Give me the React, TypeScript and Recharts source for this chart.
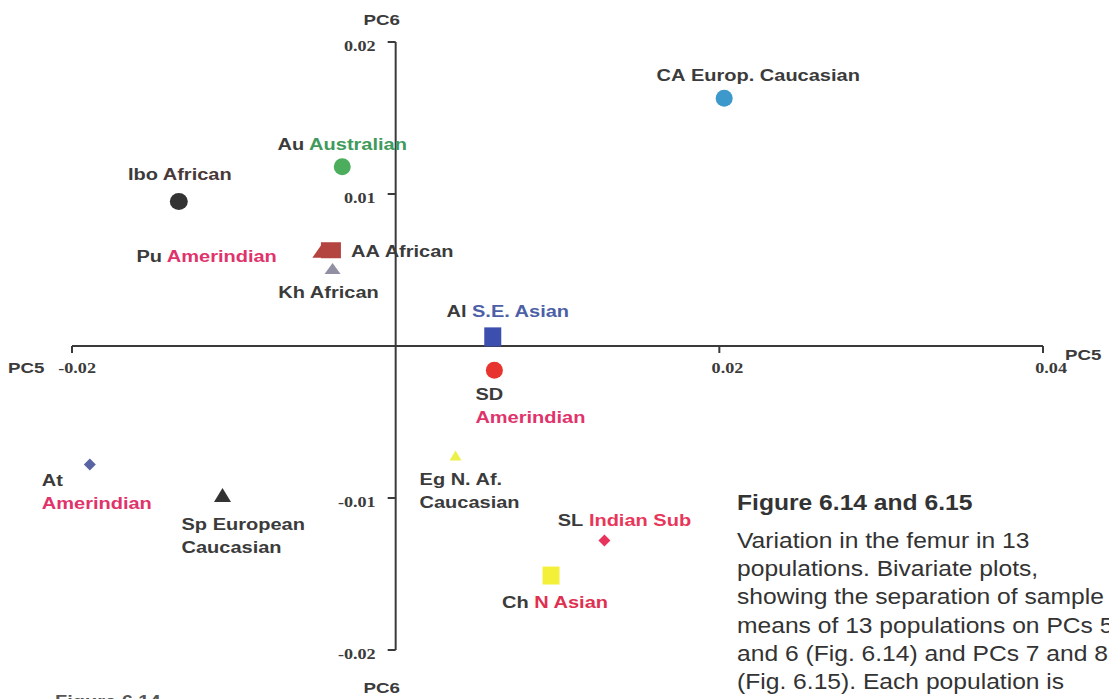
import { ScatterChart, Scatter, XAxis, YAxis, ReferenceLine, ReferenceDot } from 'recharts'

// population codes, group names and sample means on PC5 / PC6
const codes = ['CA', 'Au', 'Ibo', 'Pu', 'AA', 'Kh', 'Al', 'SD', 'Eg', 'At', 'Sp', 'SL', 'Ch']
const groups = [
  'Europ. Caucasian',
  'Australian',
  'African',
  'Amerindian',
  'African',
  'African',
  'S.E. Asian',
  'Amerindian',
  'N. Af. Caucasian',
  'Amerindian',
  'European Caucasian',
  'Indian Sub',
  'N Asian',
]
const pc5 = [0.0203, -0.0033, -0.0134, -0.0045, -0.004, -0.0039, 0.006, 0.0061, 0.0037, -0.0189, -0.0107, 0.0129, 0.0096]
const pc6 = [0.0163, 0.0118, 0.0095, 0.0063, 0.0063, 0.0051, 0.0006, -0.0016, -0.0072, -0.0078, -0.0098, -0.0128, -0.0151]

const xTicks = [-0.02, 0.02, 0.04]
const xTickLabels = ['-0.02', '0.02', '0.04']
const yTicks = [0.02, 0.01, -0.01, -0.02]
const yTickLabels = ['0.02', '0.01', '-0.01', '-0.02']

const captionTitle = 'Figure 6.14 and 6.15'
const captionLines = [
  'Variation in the femur in 13',
  'populations. Bivariate plots,',
  'showing the separation of sample',
  'means of 13 populations on PCs 5',
  'and 6 (Fig. 6.14) and PCs 7 and 8',
  '(Fig. 6.15). Each population is',
]

const points = codes.map((code, i) => ({ code, group: groups[i], pc5: pc5[i], pc6: pc6[i] }))

const INK = '#3b3b3b'
const SANS = '"Liberation Sans", Arial, sans-serif'
const SERIF = '"Liberation Serif", "Times New Roman", "DejaVu Serif", serif'
const SX = 1.25 // the scanned figure is stretched sideways

type Kind = 'circle' | 'square' | 'triangle' | 'diamond'
const markers: Record<string, { kind: Kind; fill: string; w: number; h: number }> = {
  CA: { kind: 'circle', fill: '#3d98cc', w: 17, h: 17 },
  Au: { kind: 'circle', fill: '#4cae5c', w: 17, h: 17 },
  Ibo: { kind: 'circle', fill: '#333333', w: 18, h: 17 },
  Pu: { kind: 'triangle', fill: '#b3443f', w: 21, h: 15 },
  AA: { kind: 'square', fill: '#b3443f', w: 20, h: 16 },
  Kh: { kind: 'triangle', fill: '#918fa3', w: 16, h: 11 },
  Al: { kind: 'square', fill: '#3c4fae', w: 17, h: 19 },
  SD: { kind: 'circle', fill: '#e8342f', w: 17, h: 17 },
  Eg: { kind: 'triangle', fill: '#eef04a', w: 12, h: 10 },
  At: { kind: 'diamond', fill: '#5a64a3', w: 12, h: 12 },
  Sp: { kind: 'triangle', fill: '#333333', w: 17, h: 14 },
  SL: { kind: 'diamond', fill: '#e8345c', w: 12, h: 12 },
  Ch: { kind: 'square', fill: '#f4f03a', w: 17, h: 18 },
}

// where each name sits relative to its marker; split = group words kept on the first line
const labels: Record<string, { anchor: 'start' | 'middle' | 'end'; dx: number; dy: number; color: string; split?: number }> = {
  CA: { anchor: 'middle', dx: 34, dy: -17, color: INK },
  Au: { anchor: 'middle', dx: 0, dy: -17, color: '#3f9a5c' },
  Ibo: { anchor: 'middle', dx: 1, dy: -22, color: '#4a3838' },
  Pu: { anchor: 'end', dx: -46, dy: 12, color: '#e0336b' },
  AA: { anchor: 'start', dx: 20, dy: 7, color: INK },
  Kh: { anchor: 'middle', dx: -4, dy: 30, color: INK },
  Al: { anchor: 'middle', dx: 15, dy: -20, color: '#4d5fa6' },
  SD: { anchor: 'start', dx: -19, dy: 30, color: '#e0336b', split: 0 },
  Eg: { anchor: 'start', dx: -36, dy: 30, color: INK, split: 2 },
  At: { anchor: 'start', dx: -48, dy: 21, color: '#e0336b', split: 0 },
  Sp: { anchor: 'start', dx: -41, dy: 35, color: INK, split: 1 },
  SL: { anchor: 'middle', dx: 20, dy: -15, color: '#e8365a' },
  Ch: { anchor: 'middle', dx: 4, dy: 32, color: '#e03050' },
}

function Stretch({
  x,
  y,
  anchor = 'start',
  size = 16,
  weight = 'bold',
  family = SANS,
  fill = INK,
  sx = SX,
  children,
}: any) {
  return (
    <text
      transform={`translate(${x},${y}) scale(${sx},1)`}
      textAnchor={anchor}
      fontSize={size}
      fontWeight={weight}
      style={{ fontFamily: family }}
      fill={fill}
    >
      {children}
    </text>
  )
}

function Marker({ cx, cy, kind, fill, w, h }: any) {
  if (kind === 'circle') return <ellipse cx={cx} cy={cy} rx={w / 2} ry={h / 2} fill={fill} />
  if (kind === 'square') return <rect x={cx - w / 2} y={cy - h / 2} width={w} height={h} fill={fill} />
  if (kind === 'triangle')
    return (
      <polygon
        points={`${cx},${cy - h / 2} ${cx + w / 2},${cy + h / 2} ${cx - w / 2},${cy + h / 2}`}
        fill={fill}
      />
    )
  return (
    <polygon
      points={`${cx},${cy - h / 2} ${cx + w / 2},${cy} ${cx},${cy + h / 2} ${cx - w / 2},${cy}`}
      fill={fill}
    />
  )
}

function PopulationPoint(props: any) {
  const { cx, cy, payload } = props
  const m = markers[payload.code]
  const l = labels[payload.code]
  const words = payload.group.split(' ')
  const first = l.split === undefined ? words : words.slice(0, l.split)
  const rest = l.split === undefined ? [] : words.slice(l.split)
  return (
    <g>
      <Marker cx={cx} cy={cy} {...m} />
      <Stretch x={cx + l.dx} y={cy + l.dy} anchor={l.anchor}>
        <tspan fill={INK}>{payload.code}</tspan>
        {first.length > 0 && <tspan fill={l.color}>{' ' + first.join(' ')}</tspan>}
      </Stretch>
      {rest.length > 0 && (
        <Stretch x={cx + l.dx} y={cy + l.dy + 23} anchor={l.anchor} fill={l.color}>
          {rest.join(' ')}
        </Stretch>
      )}
    </g>
  )
}

const axisStroke = '#3a3a3a'

export default function App() {
  return (
    <div style={{ position: 'absolute', left: 0, top: 0, width: 1109, height: 699, background: '#fff' }}>
      <ScatterChart width={1109} height={699} margin={{ top: 42, right: 66, bottom: 49, left: 72 }}>
        <XAxis type="number" dataKey="pc5" domain={[-0.02, 0.04]} hide />
        <YAxis type="number" dataKey="pc6" domain={[-0.02, 0.02]} hide />
        <ReferenceLine
          segment={[
            { x: -0.02, y: 0 },
            { x: 0.04, y: 0 },
          ]}
          stroke={axisStroke}
          strokeWidth={2}
          ifOverflow="visible"
        />
        <ReferenceLine
          segment={[
            { x: 0, y: -0.02 },
            { x: 0, y: 0.02 },
          ]}
          stroke={axisStroke}
          strokeWidth={2}
          ifOverflow="visible"
        />
        {xTicks.map((t, i) => (
          <ReferenceDot
            key={`x${t}`}
            x={t}
            y={0}
            ifOverflow="visible"
            shape={(p: any) => (
              <g>
                <line x1={p.cx} y1={p.cy} x2={p.cx} y2={p.cy + 7} stroke={axisStroke} strokeWidth={2} />
                <Stretch x={p.cx + 24} y={p.cy + 27} anchor="end" size={14.5} family={SERIF}>
                  {xTickLabels[i]}
                </Stretch>
                {i === 0 && (
                  <Stretch x={p.cx - 64} y={p.cy + 27} size={15}>
                    PC5
                  </Stretch>
                )}
                {i === xTicks.length - 1 && (
                  <Stretch x={p.cx + 22} y={p.cy + 14} size={15}>
                    PC5
                  </Stretch>
                )}
              </g>
            )}
          />
        ))}
        {yTicks.map((t, i) => (
          <ReferenceDot
            key={`y${t}`}
            x={0}
            y={t}
            ifOverflow="visible"
            shape={(p: any) => (
              <g>
                <line x1={p.cx - 8} y1={p.cy} x2={p.cx} y2={p.cy} stroke={axisStroke} strokeWidth={2} />
                <Stretch x={p.cx - 20} y={p.cy + 9} anchor="end" size={14.5} family={SERIF}>
                  {yTickLabels[i]}
                </Stretch>
                {i === 0 && (
                  <Stretch x={p.cx - 14} y={p.cy - 17} anchor="middle" size={15}>
                    PC6
                  </Stretch>
                )}
                {i === yTicks.length - 1 && (
                  <Stretch x={p.cx - 14} y={p.cy + 43} anchor="middle" size={15}>
                    PC6
                  </Stretch>
                )}
              </g>
            )}
          />
        ))}
        <Scatter data={points} isAnimationActive={false} shape={PopulationPoint} />
      </ScatterChart>
      <svg
        width={1109}
        height={699}
        style={{ position: 'absolute', left: 0, top: 0, pointerEvents: 'none' }}
      >
        <Stretch x={737} y={510} size={22} sx={1.12} fill="#333">
          {captionTitle}
        </Stretch>
        {captionLines.map((line, i) => (
          <Stretch key={line} x={737} y={548 + i * 28.2} size={22} weight="normal" sx={1.12} fill="#333">
            {line}
          </Stretch>
        ))}
        <Stretch x={55} y={707} size={16} fill="#555">
          Figure 6.14
        </Stretch>
      </svg>
    </div>
  )
}
